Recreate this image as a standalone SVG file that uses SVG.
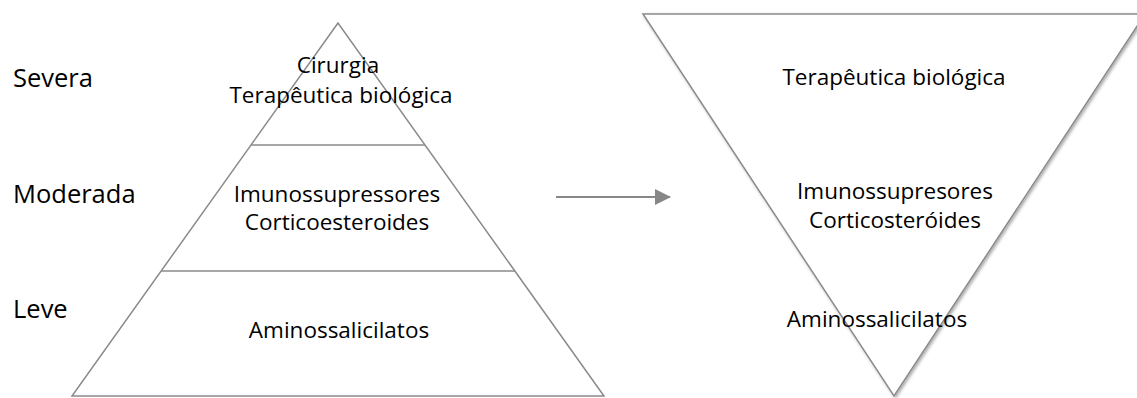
<svg xmlns="http://www.w3.org/2000/svg" width="1137" height="398" viewBox="0 0 1137 398">
<style>
.t{font-family:"Open Sans","Liberation Sans",sans-serif;font-size:22.5px;fill:#000}
.l{font-size:25.5px}
.c{text-anchor:middle}
.s{fill:#fff;stroke:#8a8a8a;stroke-width:1.5}
.d{stroke:#8a8a8a;stroke-width:1.5;fill:none}
</style>
<defs>
<filter id="sh" x="-10%" y="-10%" width="120%" height="120%">
<feDropShadow dx="1.5" dy="1.5" stdDeviation="1.5" flood-color="#000" flood-opacity="0.35"/>
</filter>
<marker id="ah" markerWidth="8" markerHeight="8" refX="7.5" refY="4" orient="auto" markerUnits="strokeWidth">
<path d="M0,0 L8,4 L0,8 Z" fill="#878787"/>
</marker>
</defs>
<text class="t l" x="13" y="87">Severa</text>
<text class="t l" x="13" y="203">Moderada</text>
<text class="t l" x="13" y="318">Leve</text>
<g id="pyramid">
<polygon class="s" points="338,23 72,396 604,396"/>
<line class="d" x1="251" y1="145" x2="425" y2="145"/>
<line class="d" x1="161" y1="271" x2="515" y2="271"/>
<text class="t c" x="338" y="73">Cirurgia</text>
<text class="t c" x="341" y="103">Terapêutica biológica</text>
<text class="t c" x="337" y="202">Imunossupressores</text>
<text class="t c" x="337" y="230">Corticoesteroides</text>
<text class="t c" x="339" y="338">Aminossalicilatos</text>
</g>
<g id="connectors">
<line x1="556" y1="197" x2="670" y2="197" stroke="#878787" stroke-width="2" marker-end="url(#ah)"/>
</g>
<g id="inverted">
<polygon class="s" points="643,14 1145,14 894,396" filter="url(#sh)"/>
<line class="d" x1="727" y1="142" x2="1061" y2="142" filter="url(#sh)"/>
<line class="d" x1="811" y1="270" x2="977" y2="270" filter="url(#sh)"/>
<text class="t c" x="894" y="85">Terapêutica biológica</text>
<text class="t c" x="895" y="199">Imunossupresores</text>
<text class="t c" x="895" y="228">Corticosteróides</text>
<text class="t c" x="877" y="327">Aminossalicilatos</text>
</g>
</svg>
